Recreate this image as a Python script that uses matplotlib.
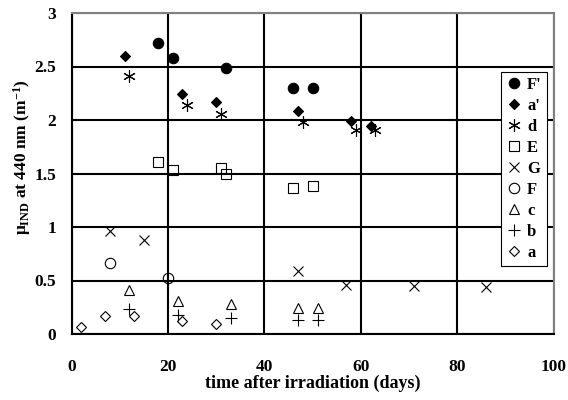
import matplotlib
matplotlib.use("Agg")
import matplotlib.pyplot as plt

plt.rcParams["font.family"] = ["Liberation Serif", "DejaVu Serif"]
plt.rcParams["font.weight"] = "bold"
plt.rcParams["mathtext.fontset"] = "custom"
plt.rcParams["mathtext.rm"] = "Liberation Serif:bold"
plt.rcParams["mathtext.bf"] = "Liberation Serif:bold"
plt.rcParams["mathtext.it"] = "Liberation Serif:bold"

# Series (days, mu_IND)
Fp_x = [18, 21, 32, 46, 50]
Fp_y = [2.72, 2.58, 2.49, 2.30, 2.30]
ap_x = [11, 23, 30, 47, 58, 62]
ap_y = [2.60, 2.24, 2.17, 2.08, 1.99, 1.94]
d_x = [12, 24, 31, 48, 59, 63]
d_y = [2.41, 2.14, 2.06, 1.98, 1.91, 1.91]
E_x = [18, 21, 31, 32, 46, 50]
E_y = [1.61, 1.53, 1.55, 1.50, 1.36, 1.38]
G_x = [8, 15, 47, 57, 71, 86]
G_y = [0.96, 0.88, 0.59, 0.46, 0.45, 0.44]
F_x = [8, 20]
F_y = [0.66, 0.52]
c_x = [12, 22, 33, 47, 51]
c_y = [0.41, 0.31, 0.28, 0.24, 0.24]
b_x = [12, 22, 33, 47, 51]
b_y = [0.23, 0.18, 0.15, 0.13, 0.13]
a_x = [2, 7, 13, 23, 30]
a_y = [0.07, 0.17, 0.17, 0.12, 0.09]

series = [
    ("F'", Fp_x, Fp_y, "o", "black", 7.5),
    ("a'", ap_x, ap_y, "D", "black", 5.5),
    ("d", d_x, d_y, (6, 2, 0), "none", 9),
    ("E", E_x, E_y, "s", "none", 7.5),
    ("G", G_x, G_y, "x", "none", 7.5),
    ("F", F_x, F_y, "o", "none", 7.5),
    ("c", c_x, c_y, "^", "none", 7.5),
    ("b", b_x, b_y, "+", "none", 8.5),
    ("a", a_x, a_y, "D", "none", 5.5),
]

fig = plt.figure(figsize=(5.68, 4.0), dpi=100)
ax = fig.add_axes([0.126, 0.165, 0.849, 0.8025])

for label, xs, ys, marker, face, size in series:
    ax.plot(xs, ys, linestyle="none", marker=marker, markersize=size,
            markerfacecolor=face, markeredgecolor="black",
            markeredgewidth=0.8, label=label, zorder=3)

ax.set_xlim(0, 100)
ax.set_ylim(0, 3)
ax.set_xticks([0, 20, 40, 60, 80, 100])
ax.set_yticks([0, 0.5, 1, 1.5, 2, 2.5, 3])
ax.set_yticklabels(["0", "0.5", "1", "1.5", "2", "2.5", "3"])
ax.grid(True, color="black", linewidth=1.5)
ax.set_axisbelow(True)
ax.tick_params(axis="x", length=0, labelsize=12.5, pad=18)
ax.tick_params(axis="y", length=0, labelsize=12.5, pad=11)
for side in ["left", "bottom"]:
    ax.spines[side].set_linewidth(1.5)
for side in ["top", "right"]:
    ax.spines[side].set_color("#808080")
    ax.spines[side].set_linewidth(1.5)

ax.set_xlabel("time after irradiation (days)", fontsize=13, fontweight="bold", labelpad=0)
ax.set_ylabel("μ$_{\\mathrm{IND}}$ at 440 nm (m$^{\\mathrm{-1}}$)", fontsize=12.5,
              fontweight="bold")
ax.yaxis.set_label_coords(-0.08, 0.55)

leg = ax.legend(loc="upper right", bbox_to_anchor=(0.9855, 0.816), fontsize=12,
                handlelength=0.9, handletextpad=0.35, labelspacing=0.3,
                borderpad=0.3, borderaxespad=0, fancybox=False, framealpha=1,
                edgecolor="black")
leg.get_frame().set_linewidth(0.8)

fig.savefig("out.png", dpi=100)
